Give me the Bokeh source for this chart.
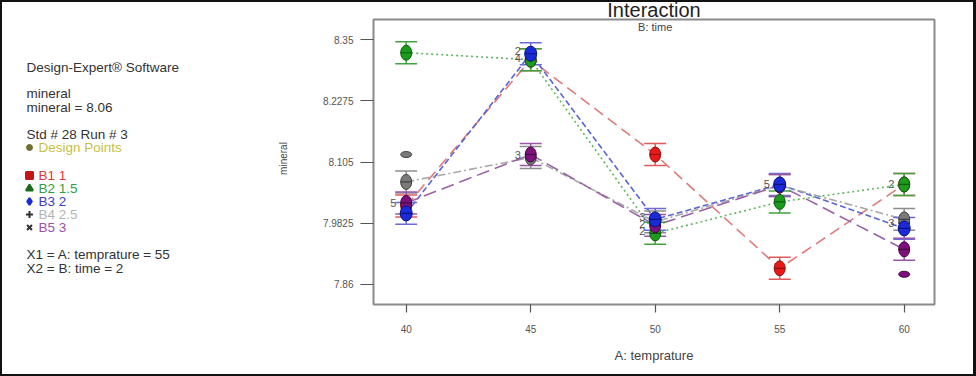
from bokeh.plotting import figure
from bokeh.models import Range1d, FixedTicker, Label
from bokeh.layouts import row
from bokeh.core.properties import value
from bokeh.embed import file_html
from bokeh.resources import INLINE

# ---------------- data ----------------
temps = [40, 45, 50, 55, 60]
x_ticks = [40, 45, 50, 55, 60]
y_ticks = [7.86, 7.9825, 8.105, 8.2275, 8.35]
y_tick_labels = ["7.86", "7.9825", "8.105", "8.2275", "8.35"]

series_names = ["B1 1", "B2 1.5", "B3 2", "B4 2.5", "B5 3"]
b1 = [8.017, 8.310, 8.120, 7.892, 8.060]
b2 = [8.324, 8.310, 7.962, 8.025, 8.060]
b3 = [8.002, 8.322, 7.990, 8.060, 7.972]
b4 = [8.065, 8.114, 7.985, 8.058, 7.990]
b5 = [8.023, 8.120, 7.978, 8.058, 7.930]
lsd_half = 0.022

design_x = [40, 60, 60]
design_y = [8.120, 7.880, 7.983]
design_series = [3, 4, 4]

count_x = [40, 45, 45, 45, 50, 50, 50, 55, 60, 60]
count_y = [8.023, 8.328, 8.314, 8.120, 7.994, 7.980, 7.966, 8.060, 8.060, 7.983]
count_txt = ["5", "2", "4", "3", "3", "2", "2", "5", "2", "3"]

# ---------------- styles ----------------
FONT = "Liberation Sans"
line_col = ["#e07a7a", "#5cb85c", "#5a64d2", "#a8a8a8", "#9a62a8"]
bar_col = ["#e05a5a", "#3fa33f", "#6a6ad8", "#8c8c8c", "#9a55a8"]
fill_col = ["#e81818", "#1c9c1c", "#1a2ad8", "#7a7a7a", "#7d107d"]
edge_col = ["#901010", "#0c5c0c", "#0a1480", "#404040", "#400840"]
dashes = ["11 6", "2 3", "6 3", "8 3 2 3", "13 6"]
legend_col = ["#e03a3a", "#30a040", "#3c3cc0", "#b4b4b4", "#a050a8"]
legend_marker = ["square", "triangle", "diamond", "cross", "x"]
legend_mcol = ["#c01818", "#1a6a1a", "#1a2ad8", "#303030", "#303030"]
values_all = [b1, b2, b3, b4, b5]

W, H = 976, 376
LEFT_W = 300
MID_W = W - LEFT_W
frame_left, frame_right, frame_top, frame_bottom = 373, 934, 19, 304


def label(f, x, y, txt, size="13.5px", color="#333333", align="left", angle=0,
          baseline="middle"):
    f.add_layout(Label(x=x, y=y, text=txt, text_font=FONT, text_font_size=size,
                       text_color=color, text_align=align, text_baseline=baseline,
                       angle=angle))


# ---------- left panel (page pixels; frame rows match main frame rows) ----------
left = figure(width=LEFT_W, height=H, output_backend="svg", toolbar_location=None,
              x_range=Range1d(0, LEFT_W), y_range=Range1d(frame_bottom, frame_top),
              x_axis_location=None, y_axis_location=None,
              min_border_left=0, min_border_right=0,
              min_border_top=frame_top, min_border_bottom=H - frame_bottom)
left.title.visible = False
left.grid.visible = False
left.outline_line_color = None
left.background_fill_alpha = 0
left.border_fill_alpha = 0

label(left, 26, 67, "Design-Expert\u00ae Software")
label(left, 26, 93, "mineral")
label(left, 26, 107, "mineral = 8.06")
label(left, 26, 134, "Std # 28 Run # 3")
left.scatter([29], [147], marker="circle", size=6, fill_color="#6e6e30", line_color="#6e6e30")
label(left, 38, 147, "Design Points", color="#c8c040")
leg_y = [175, 188, 201, 214, 227]
for i in range(5):
    left.scatter([29], [leg_y[i]], marker=legend_marker[i], size=7,
                 fill_color=legend_mcol[i], line_color=legend_mcol[i], line_width=2)
    label(left, 38, leg_y[i], series_names[i], color=legend_col[i])
label(left, 26, 254, "X1 = A: temprature = 55")
label(left, 26, 268, "X2 = B: time = 2")
label(left, 283, 158, "mineral", size="10px", color="#444444", align="center",
      angle=1.5708)

# ---------- main plot ----------
p = figure(width=MID_W, height=H, output_backend="svg", toolbar_location=None,
           x_range=Range1d(38.687, 61.217), y_range=Range1d(7.8194, 8.3906),
           min_border_left=frame_left - LEFT_W, min_border_right=W - frame_right,
           min_border_top=frame_top, min_border_bottom=H - frame_bottom)
p.title.text = "Interaction"
p.title.align = "center"
p.title.vertical_align = "top"
p.title.text_font = FONT
p.title.text_font_size = "20px"
p.title.text_font_style = "normal"
p.title.text_color = "#222222"
p.title.standoff = -6
p.title.offset = 0
p.background_fill_color = "white"
p.border_fill_alpha = 0
p.grid.visible = False
p.outline_line_color = "#8a8a8a"
p.outline_line_width = 2

p.xaxis.ticker = FixedTicker(ticks=x_ticks)
p.yaxis.ticker = FixedTicker(ticks=y_ticks)
p.yaxis.major_label_overrides = {t: l for t, l in zip(y_ticks, y_tick_labels)}
for ax in (p.xaxis[0], p.yaxis[0]):
    ax.axis_line_color = None
    ax.minor_tick_line_color = None
    ax.major_tick_in = 0
    ax.major_tick_line_color = "#555555"
    ax.major_tick_line_width = 1.2
    ax.major_label_text_font = FONT
    ax.major_label_text_font_size = "10px"
    ax.major_label_text_color = "#555555"
p.yaxis.major_tick_out = 13
p.yaxis.major_label_standoff = 7
p.xaxis.major_tick_out = 8
p.xaxis.major_label_standoff = 12
p.xaxis.axis_label = "A: temprature"
p.xaxis.axis_label_text_font = FONT
p.xaxis.axis_label_text_font_size = "13px"
p.xaxis.axis_label_text_font_style = "normal"
p.xaxis.axis_label_text_color = "#444444"
p.xaxis.axis_label_standoff = 12

# lines
for i, vals in enumerate(values_all):
    p.line(temps, vals, line_color=line_col[i], line_dash=dashes[i], line_width=1.6)

# error bars
cap = 0.44
for i, vals in enumerate(values_all):
    lo = [v - lsd_half for v in vals]
    hi = [v + lsd_half for v in vals]
    p.segment(x0=temps, y0=lo, x1=temps, y1=hi, line_color=bar_col[i], line_width=1.5)
    xl = [t - cap for t in temps]
    xr = [t + cap for t in temps]
    p.segment(x0=xl, y0=lo, x1=xr, y1=lo, line_color=bar_col[i], line_width=1.5)
    p.segment(x0=xl, y0=hi, x1=xr, y1=hi, line_color=bar_col[i], line_width=1.5)

# design points (extra)
p.ellipse(x=design_x, y=design_y, width=11, height=6, width_units="screen",
          height_units="screen", fill_color=[fill_col[s] for s in design_series],
          line_color=[edge_col[s] for s in design_series])

# mean markers (capsules)
order = [0, 1, 3, 4, 2]
cap_w = [11, 11, 12, 11, 11]
cap_h = [15, 15, 15, 15, 15]
for i in order:
    vals = values_all[i]
    p.ellipse(x=temps, y=vals, width=cap_w[i], height=cap_h[i], width_units="screen",
              height_units="screen", fill_color=fill_col[i], line_color=edge_col[i],
              line_width=1)
    p.scatter(x=temps, y=vals, marker="dash", size=cap_w[i], line_color=edge_col[i],
              line_width=1.2)

# replicate counts
p.text(x=count_x, y=count_y, text=count_txt, x_offset=-13, text_align="center",
       text_baseline="middle", text_font=value(FONT), text_font_size="11px",
       text_color="#555555")

p.add_layout(Label(x=50.0, y=8.3906, y_offset=-7, text="B: time", text_font=FONT,
                   text_font_size="11px", text_color="#444444", text_align="center",
                   text_baseline="middle"))

root = row(left, p, spacing=0)
root.styles = {"background": "white",
               "box-shadow": "inset 2px 2px 0 #111111, inset -3px -2px 0 #111111"}

open("out.html", "w").write(file_html(root, INLINE))
